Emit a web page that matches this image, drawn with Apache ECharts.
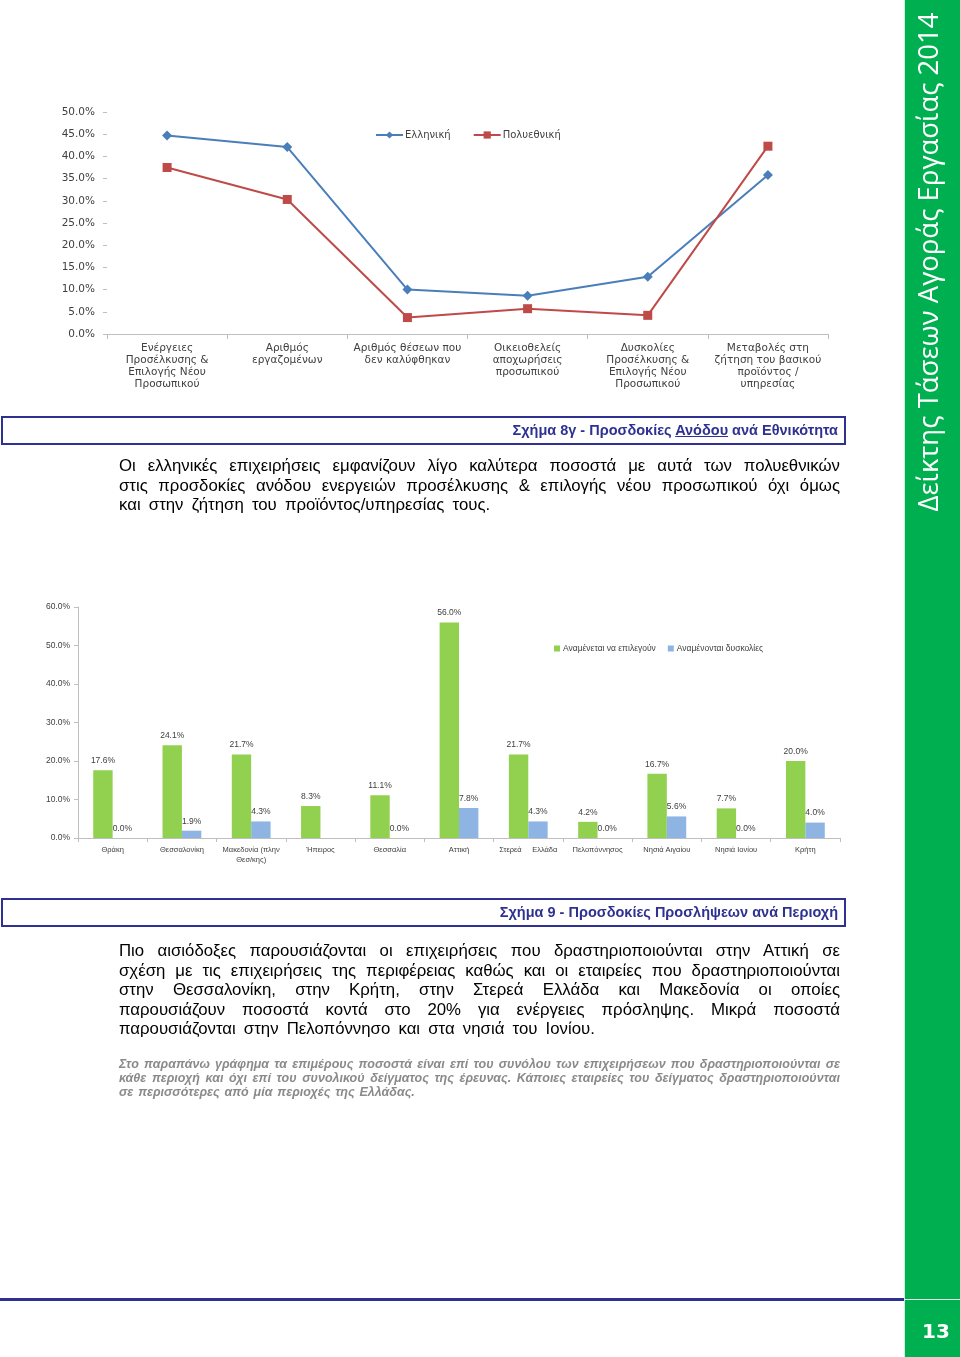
<!DOCTYPE html>
<html>
<head>
<meta charset="utf-8">
<script src="https://cdn.jsdelivr.net/npm/echarts@6/dist/echarts.min.js"></script>
<style>
  html, body { margin:0; padding:0; background:#fff; }
  #page { position:relative; width:960px; height:1357px; overflow:hidden; }
  #chart { position:absolute; left:0; top:0; width:960px; height:1357px; }
  .box { position:absolute; left:1px; width:835px; height:25px; border:2px solid #2E3192;
         font-family:"Liberation Sans", Arial, sans-serif; font-weight:bold; font-size:14.5px;
         color:#2E3192; text-align:right; line-height:25px; padding-right:6px; box-sizing:content-box; }
  .para { position:absolute; left:119px; width:721px; font-family:"Liberation Sans", Arial, sans-serif;
          color:#000; }
  .para div { text-align:justify; text-align-last:justify; white-space:nowrap; }
  .p1 div.last { text-align-last:left; word-spacing:3.5px; }
  .note div.last { text-align-last:left; word-spacing:1.4px; }
  .p1 { font-size:16.8px; line-height:19.5px; }
  .note { font-size:12.5px; line-height:14px; font-style:italic; font-weight:bold; color:#8a8a8a; }
</style>
</head>
<body>
<div id="page">
  <div id="chart"></div>
  <div class="box" style="top:416px;">Σχήμα 8γ - Προσδοκίες <u>Ανόδου</u> ανά Εθνικότητα</div>
  <div class="para p1" style="top:456px;">
    <div>Οι ελληνικές επιχειρήσεις εμφανίζουν λίγο καλύτερα ποσοστά με αυτά των πολυεθνικών</div>
    <div>στις προσδοκίες ανόδου ενεργειών προσέλκυσης &amp; επιλογής νέου προσωπικού όχι όμως</div>
    <div class="last">και στην ζήτηση του προϊόντος/υπηρεσίας τους.</div>
  </div>
  <div class="box" style="top:898px;">Σχήμα 9 - Προσδοκίες Προσλήψεων ανά Περιοχή</div>
  <div class="para p1" style="top:941px;">
    <div>Πιο αισιόδοξες παρουσιάζονται οι επιχειρήσεις που δραστηριοποιούνται στην Αττική σε</div>
    <div>σχέση με τις επιχειρήσεις της περιφέρειας καθώς και οι εταιρείες που δραστηριοποιούνται</div>
    <div>στην Θεσσαλονίκη, στην Κρήτη, στην Στερεά Ελλάδα και Μακεδονία οι οποίες</div>
    <div>παρουσιάζουν ποσοστά κοντά στο 20% για ενέργειες πρόσληψης. Μικρά ποσοστά</div>
    <div class="last">παρουσιάζονται στην Πελοπόννησο και στα νησιά του Ιονίου.</div>
  </div>
  <div class="para note" style="top:1057px;">
    <div>Στο παραπάνω γράφημα τα επιμέρους ποσοστά είναι επί του συνόλου των επιχειρήσεων που δραστηριοποιούνται σε</div>
    <div>κάθε περιοχή και όχι επί του συνολικού δείγματος της έρευνας. Κάποιες εταιρείες του δείγματος δραστηριοποιούνται</div>
    <div class="last">σε περισσότερες από μία περιοχές της Ελλάδας.</div>
  </div>
</div>
<script>
// ---- Chart 1: Προσδοκίες Ανόδου ανά Εθνικότητα ----
var lineCategories = [
  'Ενέργειες\nΠροσέλκυσης &\nΕπιλογής Νέου\nΠροσωπικού',
  'Αριθμός\nεργαζομένων',
  'Αριθμός θέσεων που\nδεν καλύφθηκαν',
  'Οικειοθελείς\nαποχωρήσεις\nπροσωπικού',
  'Δυσκολίες\nΠροσέλκυσης &\nΕπιλογής Νέου\nΠροσωπικού',
  'Μεταβολές στη\nζήτηση του βασικού\nπροϊόντος /\nυπηρεσίας'
];
var greekValues = [0.447, 0.421, 0.100, 0.086, 0.129, 0.358];
var multinationalValues = [0.375, 0.303, 0.037, 0.057, 0.042, 0.423];
var lineSeriesNames = ['Ελληνική', 'Πολυεθνική'];

// ---- Chart 2: Προσδοκίες Προσλήψεων ανά Περιοχή ----
var regionCategories = ['Θράκη', 'Θεσσαλονίκη', 'Μακεδονία (πλην\nΘεσ/κης)', 'Ήπειρος', 'Θεσσαλία',
  'Αττική', 'Στερεά     Ελλάδα', 'Πελοπόννησος', 'Νησιά Αιγαίου', 'Νησιά Ιονίου', 'Κρήτη'];
var expectedToHire = [0.176, 0.241, 0.217, 0.083, 0.111, 0.560, 0.217, 0.042, 0.167, 0.077, 0.200];
var expectedDifficulties = [0.000, 0.019, 0.043, null, 0.000, 0.078, 0.043, 0.000, 0.056, 0.000, 0.040];
var barSeriesNames = ['Αναμένεται να επιλεγούν', 'Αναμένονται δυσκολίες'];

var pct = function (v) { return (v * 100).toFixed(1) + '%'; };
var lblColor = '#404040';
var f1 = 'DejaVu Sans, Verdana, sans-serif';
var f2 = 'Liberation Sans, Arial, sans-serif';

var chart = echarts.init(document.getElementById('chart'), null, {renderer: 'canvas'});
chart.setOption({
  animation: false,
  backgroundColor: '#ffffff',
  legend: [
    {
      data: lineSeriesNames, left: 370, top: 125, itemWidth: 27, itemHeight: 9, itemGap: 22,
      textStyle: {fontFamily: f1, fontSize: 10, color: lblColor, padding: [0, 0, 0, -3]}
    },
    {
      data: barSeriesNames, left: 549, top: 639, itemWidth: 6, itemHeight: 6, itemGap: 12,
      icon: 'rect',
      textStyle: {fontFamily: f2, fontSize: 8.5, color: lblColor, padding: [0, 0, 0, -2]}
    }
  ],
  grid: [
    {left: 107, top: 112, width: 721, height: 222},
    {left: 78, top: 607, width: 762, height: 231}
  ],
  xAxis: [
    {
      gridIndex: 0, type: 'category', data: lineCategories, boundaryGap: true,
      axisLine: {lineStyle: {color: '#BFBFBF', width: 1}},
      axisTick: {show: true, length: 5, lineStyle: {color: '#BFBFBF'}},
      axisLabel: {interval: 0, fontFamily: f1, fontSize: 10.5, color: lblColor, lineHeight: 12, margin: 8}
    },
    {
      gridIndex: 1, type: 'category', data: regionCategories, boundaryGap: true,
      axisLine: {lineStyle: {color: '#BFBFBF', width: 1}},
      axisTick: {show: true, length: 4, lineStyle: {color: '#BFBFBF'}},
      axisLabel: {interval: 0, fontFamily: f2, fontSize: 7.5, color: lblColor, lineHeight: 10, margin: 7}
    }
  ],
  yAxis: [
    {
      gridIndex: 0, type: 'value', min: 0, max: 0.5, interval: 0.05,
      axisLine: {show: false},
      axisTick: {show: true, length: 4, lineStyle: {color: '#BFBFBF'}},
      splitLine: {show: false},
      axisLabel: {formatter: pct, fontFamily: f1, fontSize: 10.5, color: lblColor, margin: 12}
    },
    {
      gridIndex: 1, type: 'value', min: 0, max: 0.6, interval: 0.1,
      axisLine: {show: true, lineStyle: {color: '#BFBFBF'}},
      axisTick: {show: true, length: 4, lineStyle: {color: '#BFBFBF'}},
      splitLine: {show: false},
      axisLabel: {formatter: pct, fontFamily: f2, fontSize: 8.5, color: lblColor, margin: 8}
    }
  ],
  series: [
    {
      name: lineSeriesNames[0], type: 'line', xAxisIndex: 0, yAxisIndex: 0, data: greekValues,
      symbol: 'diamond', symbolSize: 10, lineStyle: {color: '#4A7EBB', width: 2},
      itemStyle: {color: '#4A7EBB'}
    },
    {
      name: lineSeriesNames[1], type: 'line', xAxisIndex: 0, yAxisIndex: 0, data: multinationalValues,
      symbol: 'rect', symbolSize: 9, lineStyle: {color: '#BE4B48', width: 2},
      itemStyle: {color: '#BE4B48'}
    },
    {
      name: barSeriesNames[0], type: 'bar', xAxisIndex: 1, yAxisIndex: 1, data: expectedToHire,
      barGap: '0%', barCategoryGap: '44%', itemStyle: {color: '#92D050'},
      label: {show: true, position: 'top', formatter: function (p) { return pct(p.value); },
              fontFamily: f2, fontSize: 8.5, color: lblColor, distance: 5}
    },
    {
      name: barSeriesNames[1], type: 'bar', xAxisIndex: 1, yAxisIndex: 1, data: expectedDifficulties,
      barGap: '0%', barCategoryGap: '44%', itemStyle: {color: '#8DB4E2'},
      label: {show: true, position: 'top', formatter: function (p) { return pct(p.value); },
              fontFamily: f2, fontSize: 8.5, color: lblColor, distance: 5}
    }
  ],
  graphic: [
    {type: 'rect', shape: {x: 905, y: 0, width: 55, height: 1357}, style: {fill: '#00B050'}, z: 0},
    {type: 'rect', shape: {x: 904, y: 0, width: 1, height: 1357}, style: {fill: '#CDEFD9'}, z: 0},
    {type: 'rect', shape: {x: 0, y: 1298, width: 904, height: 3}, style: {fill: '#2E3192'}, z: 0},
    {type: 'rect', shape: {x: 905, y: 1299, width: 55, height: 1}, style: {fill: '#E6F7EC'}, z: 0},
    {
      type: 'text', x: 930, y: 262, rotation: Math.PI / 2, z: 1,
      style: {text: 'Δείκτης Τάσεων Αγοράς Εργασίας 2014', fill: '#ffffff', align: 'center',
              verticalAlign: 'middle', font: '27.5px "Open Sans", sans-serif'}
    },
    {
      type: 'text', x: 936, y: 1333, z: 1,
      style: {text: '13', fill: '#ffffff', align: 'center', verticalAlign: 'middle',
              font: 'bold 20px "DejaVu Sans", sans-serif'}
    }
  ]
});
</script>
</body>
</html>
